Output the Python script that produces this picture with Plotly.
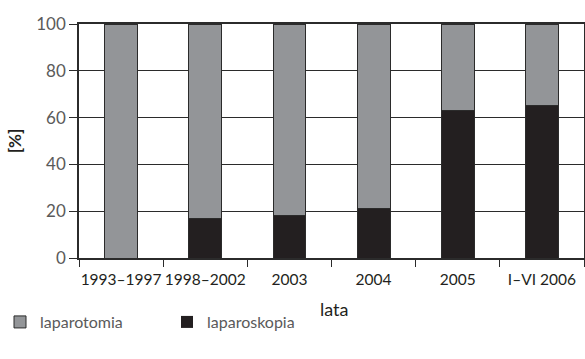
import plotly.graph_objects as go

categories = ["1993–1997", "1998–2002", "2003", "2004", "2005", "I–VI 2006"]
laparoskopia = [0, 17, 18, 21, 63, 65]
laparotomia = [100 - v for v in laparoskopia]
y_ticks = [0, 20, 40, 60, 80, 100]

FONT = "Lato"
GRAY = "#939598"
BLACK = "#231f20"
LINE = "#2b2b2b"

fig = go.Figure()
fig.add_trace(go.Bar(x=categories, y=laparoskopia, name="laparoskopia",
                     marker=dict(color=BLACK,
                                 line=dict(color=LINE, width=[0 if v == 0 else 1 for v in laparoskopia]))))
fig.add_trace(go.Bar(x=categories, y=laparotomia, name="laparotomia",
                     marker=dict(color=GRAY, line=dict(color=LINE, width=1))))

fig.update_layout(
    width=585, height=359,
    margin=dict(l=79, r=1, t=24, b=101),
    barmode="stack", bargap=0.61,
    plot_bgcolor="white", paper_bgcolor="white",
    font=dict(family=FONT, size=15, color=BLACK),
    showlegend=True,
    legend=dict(orientation="h", xref="container", yref="container",
                x=0.0, y=0.103, xanchor="left", yanchor="middle",
                traceorder="reversed", entrywidth=122,
                font=dict(family=FONT, size=16, color="#5a5a5a")),
    xaxis=dict(tickson="boundaries", ticks="outside", ticklen=7, tickcolor=LINE,
               tickangle=0, automargin=False, ticklabelstandoff=7,
               showline=True, linecolor=LINE, linewidth=1.5, mirror=True,
               tickfont=dict(family=FONT, size=15.5, color=BLACK)),
    yaxis=dict(range=[0, 100], tickvals=y_ticks, ticks="outside", ticklen=8, tickcolor=LINE,
               automargin=False,
               showline=True, linecolor=LINE, linewidth=1.5, mirror=True,
               showgrid=True, gridcolor=LINE, gridwidth=1, zeroline=False,
               tickfont=dict(family=FONT, size=17, color="#5a5a5a"),
               title=dict(text="<b>[%]</b>", font=dict(family=FONT, size=17, color=BLACK), standoff=10)),
    annotations=[dict(text="lata", xref="paper", yref="paper", x=0.505, y=-0.218,
                      xanchor="center", yanchor="middle", showarrow=False,
                      font=dict(family=FONT, size=18, color=BLACK))],
)

fig.write_html("out.html")
